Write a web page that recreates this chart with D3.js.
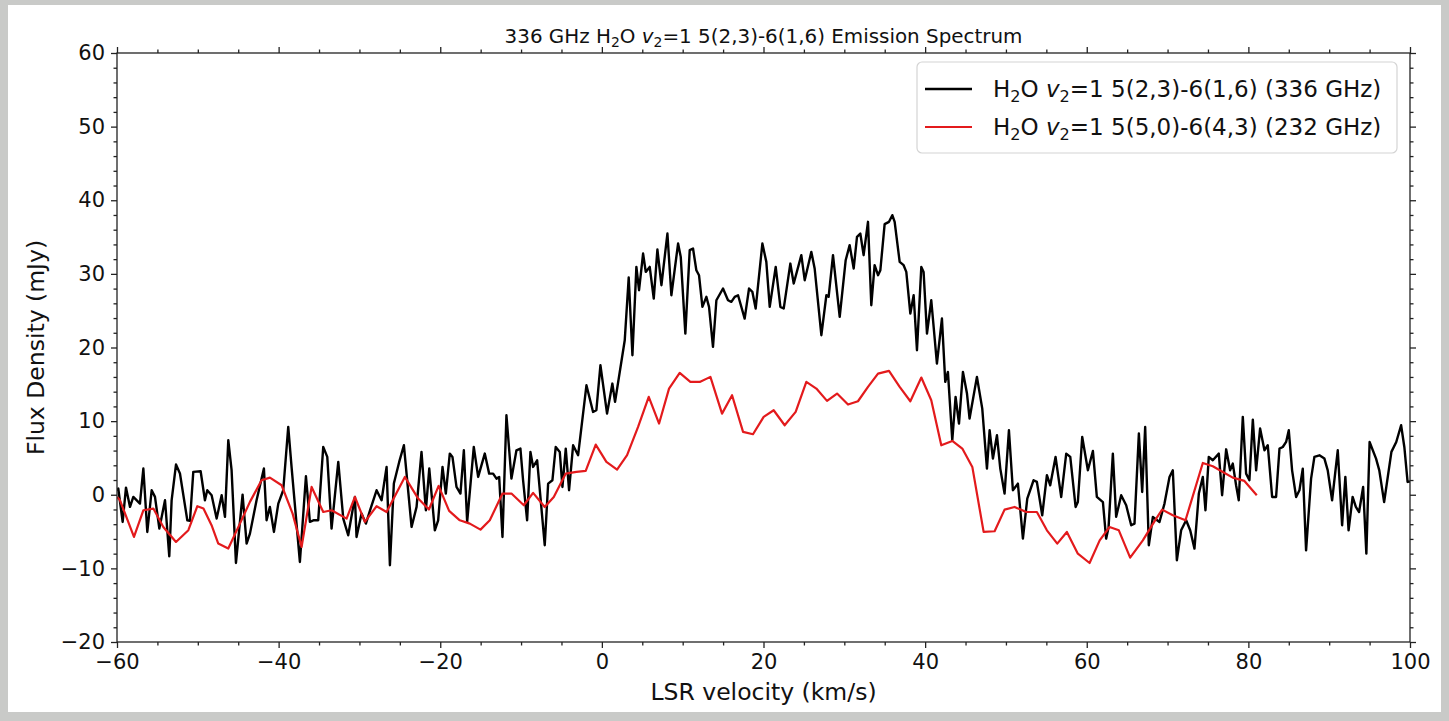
<!DOCTYPE html>
<html>
<head>
<meta charset="utf-8">
<script src="https://cdn.jsdelivr.net/npm/d3@7"></script>
<style>
  html, body { margin: 0; padding: 0; background: #c8c9c7; }
  svg { display: block; font-family: "DejaVu Sans", sans-serif; }
</style>
</head>
<body>
<svg id="chart" width="1449" height="721"></svg>
<script>
// 336 GHz line (km/s, mJy)
var vel336 = [-60.0, -59.84, -59.30, -58.89, -58.39, -57.98, -57.16, -56.74, -56.25, -55.71, -55.30, -54.76, -54.06, -53.53, -53.24, -52.70, -52.21, -51.30, -50.97, -50.56,
  -49.65, -49.12, -48.83, -48.29, -47.67, -47.05, -46.64, -46.23, -45.82, -45.28, -44.46, -43.96, -43.55, -42.73, -41.82, -41.49, -41.08, -40.58, -40.04, -39.43,
  -38.81, -38.40, -37.37, -36.62, -36.13, -35.63, -35.10, -34.48, -33.98, -33.45, -32.62, -32.00, -31.39, -30.56, -30.36, -29.74, -29.20, -28.62, -27.88, -27.26,
  -26.64, -26.23, -25.74, -25.08, -24.50, -23.55, -22.93, -22.32, -21.78, -21.36, -20.67, -20.26, -19.72, -19.31, -18.82, -18.49, -17.99, -17.50, -17.08, -16.67,
  -15.85, -15.31, -14.49, -13.95, -13.46, -13.04, -12.71, -12.30, -11.81, -11.19, -10.57, -10.08, -9.75, -9.25, -8.84, -8.51, -8.01, -7.07, -6.65, -6.12,
  -5.71, -5.21, -4.88, -4.47, -4.06, -3.56, -2.94, -1.91, -1.09, -0.68, -0.18, 0.64, 1.30, 1.63, 2.83, 3.32, 3.78, 4.27, 4.60, 5.10,
  5.43, 5.92, 6.42, 6.87, 7.37, 8.11, 8.60, 9.43, 9.76, 10.33, 10.87, 11.28, 11.69, 12.02, 12.44, 12.93, 13.26, 13.75, 14.17, 14.99,
  15.61, 16.02, 16.44, 16.85, 17.67, 18.21, 18.62, 19.03, 19.86, 20.35, 20.77, 21.51, 22.09, 22.50, 23.32, 23.74, 24.68, 25.10, 25.92, 26.33,
  27.16, 27.78, 28.06, 28.60, 29.43, 30.17, 30.66, 31.16, 31.57, 31.98, 32.39, 32.93, 33.34, 33.75, 34.17, 34.46, 34.99, 35.53, 35.94, 36.23,
  36.85, 37.34, 37.67, 38.17, 38.58, 38.99, 39.53, 39.81, 40.23, 40.76, 41.46, 42.08, 42.49, 42.82, 43.36, 43.77, 44.19, 44.68, 45.18, 45.50,
  46.41, 47.07, 47.65, 47.98, 48.39, 48.89, 49.30, 49.83, 50.37, 50.86, 51.48, 52.10, 52.64, 53.42, 53.83, 54.49, 55.07, 55.48, 56.14, 56.84,
  57.46, 57.96, 58.62, 58.90, 59.44, 60.14, 60.76, 61.25, 62.00, 62.40, 62.70, 63.23, 63.64, 64.26, 64.88, 65.50, 65.91, 66.45, 66.86, 67.23,
  67.68, 68.18, 69.00, 69.62, 70.24, 70.65, 71.15, 71.68, 72.30, 72.80, 73.33, 73.87, 74.36, 74.69, 75.10, 75.60, 76.34, 76.75, 77.25, 77.74,
  78.07, 78.48, 78.81, 79.31, 79.72, 80.13, 80.55, 80.96, 81.45, 81.99, 82.40, 82.94, 83.43, 83.85, 84.26, 84.67, 85.00, 85.41, 85.91, 86.32,
  86.73, 87.14, 87.76, 88.17, 88.79, 89.41, 89.82, 90.36, 91.06, 91.60, 92.00, 92.40, 92.90, 93.30, 93.70, 94.20, 94.60, 95.00, 95.80, 96.20,
  96.80, 97.70, 98.30, 98.90, 99.30, 99.70, 100.0];
var flux336 = [0.5, 0.84, -3.69, 0.97, -1.65, -0.29, -1.20, 3.56, -5.05, 0.61, -0.29, -4.60, -0.75, -8.36, -0.75, 4.10, 2.88, -3.46, -3.55, 3.10,
  3.19, -0.75, 0.61, -0.07, -3.24, -0.07, -3.01, 7.41, 3.33, -9.26, 0.02, -6.63, -5.28, -0.75, 3.56, -3.46, -1.65, -5.05, -1.20, 0.61,
  9.22, 3.78, -9.13, 2.51, -3.69, -3.46, -3.46, 6.50, 5.14, -4.60, 4.46, -3.24, -5.50, -0.29, -5.73, -2.56, -3.92, -1.88, 0.61, -0.75,
  3.78, -9.58, 1.52, 4.46, 6.73, -4.37, -1.65, 5.82, -2.11, 3.56, -4.83, -3.47, 3.78, 0.16, 5.59, 5.14, 1.06, 0.16, 6.04, -3.69,
  6.50, 2.42, 5.59, 2.87, 2.87, 2.19, 2.42, -5.73, 10.80, 2.19, 6.04, 6.27, 1.97, -3.47, 5.82, 3.78, 4.68, -6.86, 1.51, 1.97,
  6.50, 5.82, 1.06, 6.27, 0.61, 6.72, 5.37, 14.87, 11.25, 11.48, 17.59, 11.02, 15.10, 12.61, 20.99, 29.50, 18.95, 30.95, 27.78, 32.76,
  30.27, 30.95, 26.65, 33.31, 28.46, 35.48, 27.10, 34.12, 32.31, 21.89, 33.22, 33.44, 30.50, 29.82, 25.52, 26.88, 25.52, 20.08, 26.42, 28.01,
  26.42, 26.20, 26.88, 27.10, 23.93, 28.01, 27.56, 25.29, 34.12, 31.63, 25.52, 30.95, 25.52, 25.29, 31.40, 28.69, 32.54, 29.14, 32.99, 30.73,
  21.67, 27.10, 26.88, 32.54, 24.16, 31.86, 33.90, 30.73, 35.03, 35.48, 32.54, 37.07, 25.74, 31.18, 29.82, 30.50, 36.75, 37.07, 37.97, 37.07,
  31.63, 31.18, 30.27, 24.61, 27.10, 19.63, 30.95, 30.27, 21.89, 26.42, 17.82, 23.93, 15.33, 16.69, 7.40, 13.29, 9.67, 16.69, 13.74, 10.35,
  16.01, 11.70, 3.55, 8.76, 4.91, 8.08, 3.55, 0.16, 8.76, 0.61, 1.51, -5.96, -0.52, 1.97, 1.74, -2.79, 2.65, 1.29, 5.14, -0.30,
  5.59, 5.14, -1.66, -0.98, 7.85, 3.33, 5.95, -0.30, -1.00, -5.96, -4.40, 5.59, -3.00, -0.07, -1.43, -4.15, -3.92, 8.31, 0.38, 9.21,
  -6.87, -3.02, -3.70, -1.20, 2.42, 3.32, -8.90, -4.83, -3.47, -4.83, -7.32, 0.16, 2.42, -2.11, 5.14, 4.68, 5.59, -0.07, 6.17, 3.32,
  4.23, 1.29, -0.75, 10.57, 2.87, 1.97, 10.21, 3.32, 8.99, 6.04, 6.72, -0.30, -0.30, 6.27, 6.49, 7.17, 8.76, 3.32, -0.30, 0.61,
  3.55, -7.55, 2.19, 5.14, 5.36, 4.91, 3.32, -0.75, 6.04, -4.15, 2.42, -4.83, -0.30, -1.66, -2.34, 1.06, -8.00, 7.17, 4.91, 3.32,
  -0.98, 5.82, 7.17, 9.44, 6.49, 1.74, 1.80];

// 232 GHz line
var vel232 = [-60.0, -59.63, -57.90, -56.74, -55.50, -54.27, -52.70, -51.17, -50.06, -49.30, -48.30, -47.47, -46.23, -44.79, -43.55, -42.11, -41.08, -39.63, -38.27, -37.16,
  -35.92, -34.48, -33.45, -31.59, -30.56, -29.33, -27.88, -26.64, -24.38, -22.73, -21.40, -20.20, -18.90, -17.58, -16.34, -15.02, -13.87, -12.30, -11.19, -9.66,
  -8.51, -7.07, -5.95, -4.47, -3.15, -2.00, -0.76, 0.56, 1.88, 3.12, 4.48, 5.80, 7.08, 8.31, 9.63, 10.95, 12.11, 13.43, 14.87, 16.11,
  17.47, 18.70, 20.02, 21.26, 22.62, 23.98, 25.30, 26.54, 27.86, 29.10, 30.46, 31.69, 32.93, 34.17, 35.53, 36.85, 38.17, 39.53, 40.76, 42.00,
  43.36, 44.60, 45.84, 47.24, 48.60, 49.83, 51.07, 52.51, 53.83, 55.07, 56.35, 57.54, 58.90, 60.35, 61.60, 62.82, 63.97, 65.37, 66.94, 68.59,
  69.33, 70.65, 72.22, 74.36, 75.60, 76.84, 78.07, 79.51, 81.04];
var flux232 = [-0.3, -0.75, -5.73, -2.11, -1.88, -4.37, -6.41, -4.82, -1.56, -1.88, -4.14, -6.63, -7.31, -3.92, -0.97, 1.97, 2.33, 1.29, -2.56, -7.09,
  1.06, -2.34, -2.11, -3.24, -0.29, -3.69, -1.56, -2.34, 2.42, -0.52, -2.00, 1.20, -2.20, -3.47, -3.92, -4.74, -3.47, 0.16, 0.16, -1.43,
  0.25, -1.66, -0.30, 2.87, 3.10, 3.23, 6.81, 4.46, 3.42, 5.37, 9.21, 13.29, 9.67, 14.42, 16.55, 15.33, 15.33, 16.01, 11.02, 13.52,
  8.54, 8.22, 10.57, 11.48, 9.44, 11.25, 15.33, 14.42, 12.75, 13.74, 12.25, 12.70, 14.65, 16.46, 16.82, 14.65, 12.70, 15.92, 12.84, 6.72,
  7.31, 6.27, 3.78, -5.05, -4.96, -2.02, -1.66, -2.34, -2.34, -4.83, -6.64, -5.05, -8.00, -9.27, -6.20, -4.38, -4.83, -8.54, -6.19, -3.24,
  -2.02, -2.79, -3.47, 4.32, 3.87, 3.10, 2.33, 1.88, -0.07];

var xTicks = [-60, -40, -20, 0, 20, 40, 60, 80, 100];
var yTicks = [-20, -10, 0, 10, 20, 30, 40, 50, 60];

var series = [
  { name: '336', vel: vel336, flux: flux336, color: '#000000', width: 2.4 },
  { name: '232', vel: vel232, flux: flux232, color: '#e31a1c', width: 2.2 }
];

var W = 1449, H = 721;
var plotL = 117, plotR = 1410, plotT = 53, plotB = 642;
var tickFont = 21, labelFont = 23.5, legendFont = 23;

var svg = d3.select('#chart');

// page backdrop and white figure panel
svg.append('rect').attr('width', W).attr('height', H).attr('fill', '#c9cac8');
svg.append('rect').attr('x', 8).attr('y', 5).attr('width', 1433).attr('height', 707).attr('fill', '#ffffff');

var x = d3.scaleLinear().domain([-60, 100]).range([plotL, plotR]);
var y = d3.scaleLinear().domain([-20, 60]).range([plotB, plotT]);

var xMinor = d3.range(-60, 101, 5).filter(function (d) { return d % 20 !== 0; });
var yMinor = d3.range(-20, 61, 2).filter(function (d) { return d % 10 !== 0; });

function styleAxis(g, labels) {
  g.select('.domain').remove();
  g.selectAll('line').attr('stroke', '#222').attr('stroke-width', 1.3);
  g.selectAll('text').attr('font-size', tickFont).attr('fill', '#111')
    .attr('font-family', '"DejaVu Sans", sans-serif');
  if (!labels) g.selectAll('text').remove();
}

function addAxis(axisFn, scale, ticks, minor, transform, labels) {
  var major = axisFn(scale).tickValues(ticks).tickSize(6).tickPadding(6).tickSizeOuter(0);
  var gMaj = svg.append('g').attr('transform', transform).call(major);
  styleAxis(gMaj, labels);
  var minorAxis = axisFn(scale).tickValues(minor).tickSize(3.5).tickFormat('').tickSizeOuter(0);
  var gMin = svg.append('g').attr('transform', transform).call(minorAxis);
  styleAxis(gMin, false);
}

addAxis(d3.axisBottom, x, xTicks, xMinor, 'translate(0,' + plotB + ')', true);
addAxis(d3.axisTop, x, xTicks, xMinor, 'translate(0,' + plotT + ')', false);
addAxis(d3.axisLeft, y, yTicks, yMinor, 'translate(' + plotL + ',0)', true);
addAxis(d3.axisRight, y, yTicks, yMinor, 'translate(' + plotR + ',0)', false);

// data lines, clipped to the axes box
svg.append('clipPath').attr('id', 'plot-clip')
  .append('rect').attr('x', plotL).attr('y', plotT).attr('width', plotR - plotL).attr('height', plotB - plotT);

var line = d3.line()
  .x(function (d) { return x(d[0]); })
  .y(function (d) { return y(d[1]); });

svg.append('g').attr('clip-path', 'url(#plot-clip)')
  .selectAll('path.series')
  .data(series)
  .enter()
  .append('path')
  .attr('class', 'series')
  .attr('fill', 'none')
  .attr('stroke', function (d) { return d.color; })
  .attr('stroke-width', function (d) { return d.width; })
  .attr('stroke-linejoin', 'round')
  .attr('d', function (d) { return line(d3.zip(d.vel, d.flux)); });

// spines
svg.append('rect')
  .attr('x', plotL).attr('y', plotT).attr('width', plotR - plotL).attr('height', plotB - plotT)
  .attr('fill', 'none').attr('stroke', '#222').attr('stroke-width', 1.3);

// text with sub-scripts and italics: parts are [text, 'sub' | 'it' | '']
function richText(g, parts, size) {
  var t = g.append('text').attr('font-size', size).attr('fill', '#111');
  var shift = 0;
  parts.forEach(function (p) {
    var s = t.append('tspan').text(p[0]);
    var want = p[1] === 'sub' ? size * 0.22 : 0;
    if (want !== shift) { s.attr('dy', want - shift); shift = want; }
    if (p[1] === 'sub') s.attr('font-size', size * 0.7);
    if (p[1] === 'it') s.attr('font-style', 'italic');
  });
  return t;
}

function lineLabel(freqText, transition) {
  return [['H', ''], ['2', 'sub'], ['O ', ''], ['v', 'it'], ['2', 'sub'],
          ['=1 ' + transition + ' (' + freqText + ')', '']];
}

// title
var title = richText(svg, [['336 GHz H', ''], ['2', 'sub'], ['O ', ''], ['v', 'it'], ['2', 'sub'],
  ['=1 5(2,3)-6(1,6) Emission Spectrum', '']], 19.9);
title.attr('x', (plotL + plotR) / 2).attr('y', 43).attr('text-anchor', 'middle');

// axis labels
svg.append('text').attr('x', (plotL + plotR) / 2).attr('y', 700).attr('text-anchor', 'middle')
  .attr('font-size', labelFont).attr('fill', '#111').text('LSR velocity (km/s)');
svg.append('text').attr('transform', 'translate(44,' + ((plotT + plotB) / 2) + ') rotate(-90)')
  .attr('text-anchor', 'middle').attr('font-size', labelFont).attr('fill', '#111').text('Flux Density (mJy)');

// legend
var legend = svg.append('g');
legend.append('rect').attr('x', 917).attr('y', 62).attr('width', 480).attr('height', 91).attr('rx', 5)
  .attr('fill', '#fff').attr('fill-opacity', 0.85).attr('stroke', '#d4d4d4').attr('stroke-width', 1.2);
var legendLabels = [lineLabel('336 GHz', '5(2,3)-6(1,6)'), lineLabel('232 GHz', '5(5,0)-6(4,3)')];
series.forEach(function (s, i) {
  var ly = 89 + i * 38;
  legend.append('line').attr('x1', 925).attr('x2', 972).attr('y1', ly).attr('y2', ly)
    .attr('stroke', s.color).attr('stroke-width', s.width);
  richText(legend, legendLabels[i], legendFont).attr('x', 993).attr('y', ly + 8);
});
</script>
</body>
</html>
